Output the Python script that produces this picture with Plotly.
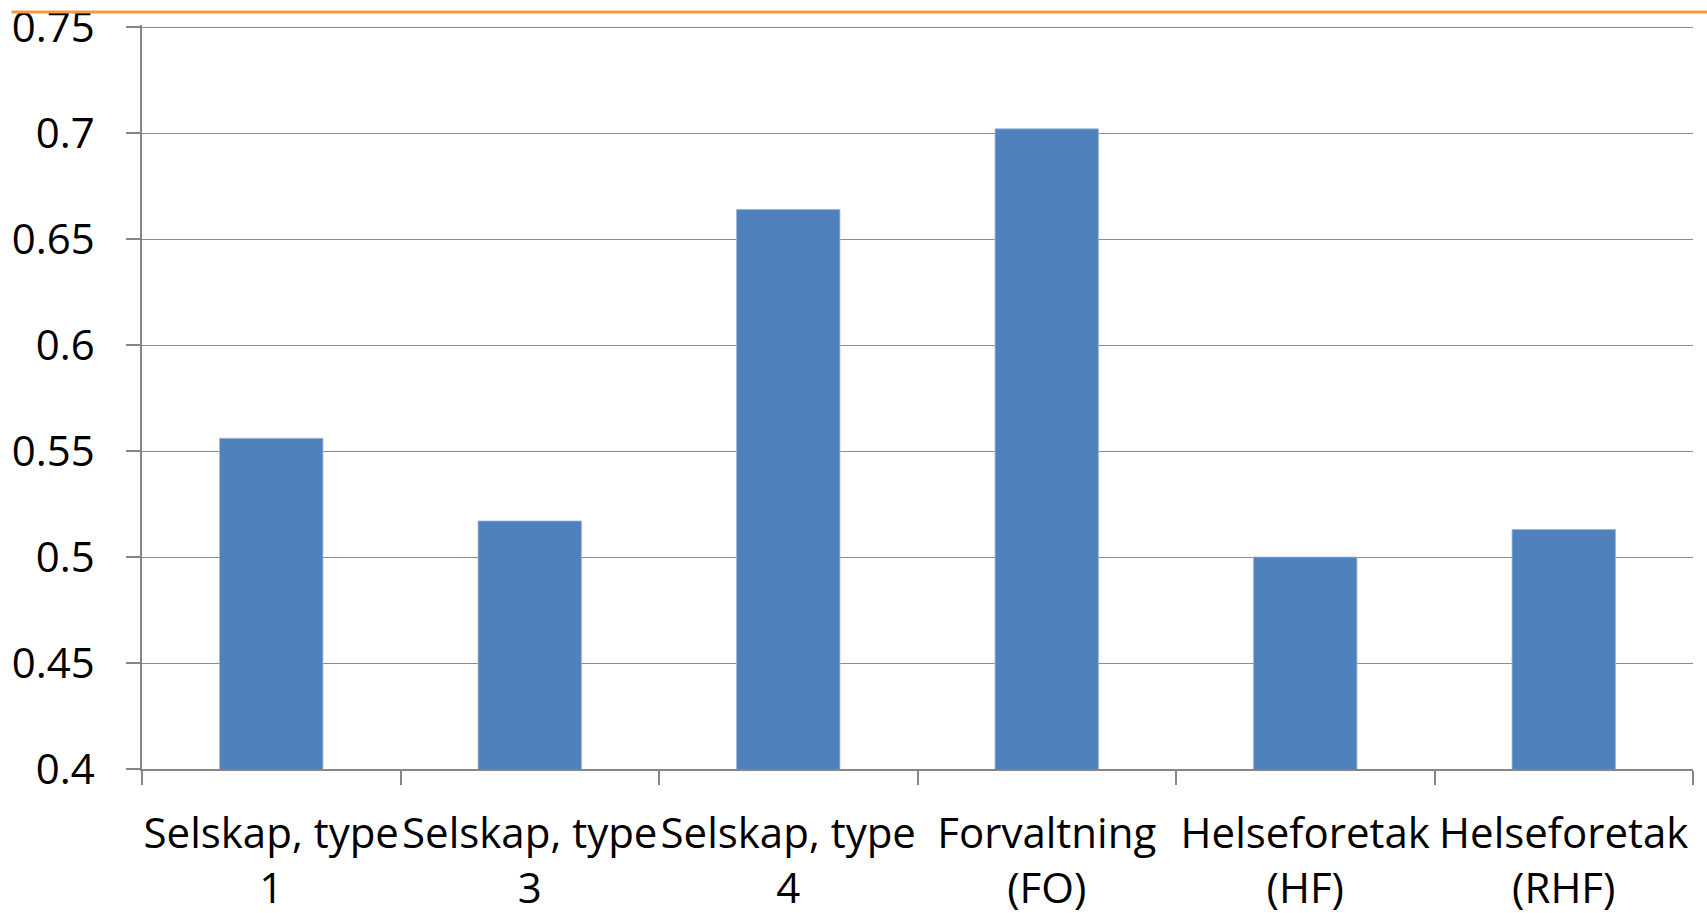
import plotly.graph_objects as go

categories = ["Selskap, type<br>1", "Selskap, type<br>3", "Selskap, type<br>4",
              "Forvaltning<br>(FO)", "Helseforetak<br>(HF)", "Helseforetak<br>(RHF)"]
values = [0.556, 0.517, 0.664, 0.702, 0.500, 0.513]
y_tickvals = [0.4, 0.45, 0.5, 0.55, 0.6, 0.65, 0.7, 0.75]
y_ticktext = ["0.4", "0.45", "0.5", "0.55", "0.6", "0.65", "0.7", "0.75"]

W, H = 1707, 913
y_lo, y_hi = 0.4, 0.751
ml, mr, mt, mb = 141.5, 14, 24.9, 144

fig = go.Figure(go.Bar(
    x=categories, y=values,
    marker=dict(color="#4F81BD", line=dict(color="#9db6d8", width=0.8)),
    hoverinfo="x+y",
))

font = dict(family="Open Sans, sans-serif", size=42, color="black")

fig.update_layout(
    width=W, height=H,
    margin=dict(l=ml, r=mr, t=mt, b=mb, pad=0, autoexpand=False),
    plot_bgcolor="white", paper_bgcolor="white",
    bargap=0.6,
    showlegend=False,
    font=font,
    xaxis=dict(
        type="category",
        showline=True, linecolor="#868686", linewidth=1.5,
        ticks="outside", tickson="boundaries", ticklen=14, tickcolor="#868686", tickwidth=1.5,
        showgrid=False,
        tickfont=font,
        tickangle=0,
        automargin=False,
        ticklabelstandoff=27,
    ),
    yaxis=dict(
        range=[y_lo, y_hi],
        tickvals=y_tickvals, ticktext=y_ticktext,
        showline=True, linecolor="#868686", linewidth=1.5,
        ticks="outside", ticklen=14, tickcolor="#868686", tickwidth=1.5,
        showgrid=True, gridcolor="#8c8c8c", gridwidth=1.3,
        zeroline=False,
        tickfont=font,
        automargin=False,
        ticklabeloverflow="allow",
        ticklabelstandoff=23,
    ),
)

plot_w = W - ml - mr
plot_h = H - mt - mb
fig.add_shape(
    type="line", xref="paper", yref="paper",
    x0=(11 - ml) / plot_w, x1=(W - ml) / plot_w,
    y0=1 + (mt - 12) / plot_h, y1=1 + (mt - 12) / plot_h,
    line=dict(color="#F79A3A", width=3), layer="above",
)

fig.write_html(
    "out.html",
    config={"displayModeBar": False},
    post_script="document.body.style.margin='0';document.body.style.overflow='hidden';",
)
